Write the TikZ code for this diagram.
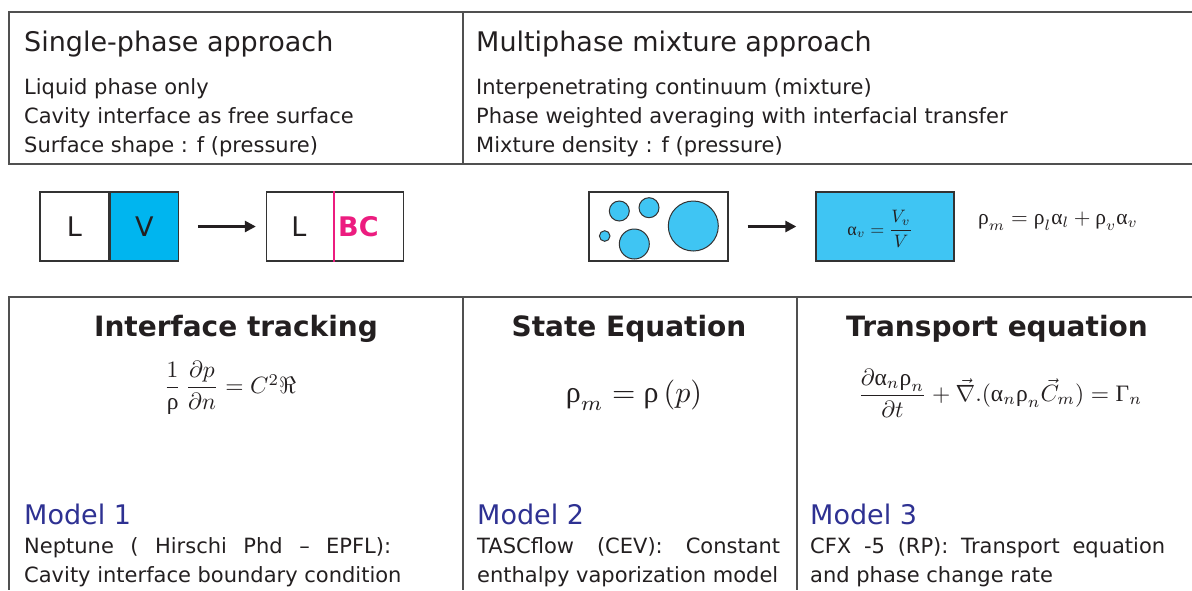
\documentclass[tikz,border=0pt]{standalone}
\usepackage{amsmath}
\usepackage[no-math]{fontspec}
\setmainfont{DejaVu Sans}
\newfontfamily\tms{Liberation Serif}
\usetikzlibrary{arrows.meta}
\definecolor{txt}{HTML}{231F20}
\definecolor{framegray}{HTML}{505050}
\definecolor{boxgray}{HTML}{333333}
\definecolor{vcyan}{HTML}{00B5EF}
\definecolor{bcyan}{HTML}{3FC5F3}
\definecolor{bcmag}{HTML}{EC1C7F}
\definecolor{modelblue}{HTML}{2E3192}
\newcommand\gr[1]{\text{\tms #1}}
\newcommand\fs[1]{\fontsize{#1}{#1}\selectfont}
\newcommand\sm[2]{\scalebox{#1}{$#2$}}
\tikzset{
  frame/.style={draw=framegray, line width=1.4pt},
  head/.style={anchor=base west, inner sep=0, text=txt, font=\fs{27}},
  body/.style={anchor=base west, inner sep=0, text=txt, font=\fs{21}},
  btitle/.style={anchor=base, inner sep=0, text=txt, font=\fs{28}\bfseries},
  model/.style={anchor=base west, inner sep=0, text=modelblue, font=\fs{27}},
  eq/.style={inner sep=0, text=txt},
  cell/.style={draw=boxgray, line width=1.3pt, minimum height=69pt, inner sep=0, text=txt, font=\fs{27}},
  arr/.style={-{Triangle[length=11pt,width=11pt]}, line width=2.6pt, draw=txt},
  bubble/.style={draw=boxgray, line width=1pt, fill=bcyan}
}
\begin{document}
\begin{tikzpicture}[x=1pt,y=-1pt]
\useasboundingbox (0,0) rectangle (1192,590);
% top frame
\draw[frame] (1192,12) -- (9,12) -- (9,164) -- (1192,164);
\draw[frame] (463,12) -- (463,164);
\node[head] (t1) at (24,51) {Single-phase approach};
\node[head] (t2) at (476,51) {Multiphase mixture approach};
\node[body] (a1) at (24,94) {Liquid phase only};
\node[body] (a2) at (24,123) {Cavity interface as free surface};
\node[body] (a3) at (24,152) {Surface shape : f (pressure)};
\node[body] (b1) at (476,94) {Interpenetrating continuum (mixture)};
\node[body] (b2) at (476,123) {Phase weighted averaging with interfacial transfer};
\node[body] (b3) at (476,152) {Mixture density : f (pressure)};
% middle left
\node[cell, minimum width=69pt] (cl) at (74.5,226.5) {L};
\node[cell, minimum width=68pt, fill=vcyan, anchor=west] (cv) at (cl.east) {V};
\node[cell, minimum width=137pt] (cbc) at (335,226.5) {};
\node[inner sep=0, text=txt, font=\fs{27}] (lbl) at (299,226.5) {L};
\node[inner sep=0, text=bcmag, font=\fs{27}\bfseries, anchor=west] (bc) at (338,226.5) {BC};
\draw[bcmag, line width=2.6pt] (cbc.north) ++(-1,0) coordinate (m1) -- (m1 |- cbc.south);
\draw[arr] ([xshift=19pt]cv.east) -- ([xshift=-10pt]cbc.west);
% middle right
\node[draw=boxgray, line width=1.3pt, minimum width=139pt, minimum height=69pt, inner sep=0] (bb) at (658.5,226.5) {};
\draw[bubble] (619.3,211) circle [radius=10];
\draw[bubble] (649,207.7) circle [radius=10];
\draw[bubble] (604.7,236) circle [radius=5.3];
\draw[bubble] (634.3,244) circle [radius=15];
\draw[bubble] (693.3,226) circle [radius=25];
\node[draw=boxgray, line width=1.3pt, fill=bcyan, minimum width=138pt, minimum height=69pt, inner sep=0, text=txt] (cb) at (885,226.5) {};
\node[eq] (alf) at (880,229) {\sm{1.8}{\gr{α}_v = \dfrac{V_v}{V}}};
\draw[arr] ([xshift=19pt]bb.east) -- ([xshift=-19pt]cb.west);
\node[eq, anchor=west] (rhom) at (978,221) {\sm{2.15}{\gr{ρ}_m = \gr{ρ}_l\gr{α}_l + \gr{ρ}_v\gr{α}_v}};
% bottom frame
\draw[frame] (1192,297) -- (9,297) -- (9,590);
\draw[frame] (463,297) -- (463,590);
\draw[frame] (797,297) -- (797,590);
\node[btitle] (h1) at (236,336) {Interface tracking};
\node[btitle] (h2) at (629,336) {State Equation};
\node[btitle] (h3) at (997,336) {Transport equation};
\node[eq] (e1) at (230,388) {\sm{2.35}{\dfrac{1}{\gr{ρ}}\,\dfrac{\partial p}{\partial n} = C^2\Re}};
\node[eq] (e2) at (634,395) {\sm{3}{\gr{ρ}_m = \gr{ρ}\,(p)}};
\node[eq] (e3) at (1000,393) {\sm{2.35}{\dfrac{\partial\gr{α}_n\gr{ρ}_n}{\partial t} + \vec{\nabla}.(\gr{α}_n\gr{ρ}_n\vec{C}_m) = \gr{Γ}_n}};
\node[model] (m1) at (24,524) {Model 1};
\node[model] (m2) at (477,524) {Model 2};
\node[model] (m3) at (810,524) {Model 3};
\node[body] (d11) at (24,553) {\makebox[367pt][s]{Neptune ( Hirschi Phd – EPFL):}};
\node[body] (d12) at (24,582) {Cavity interface boundary condition};
\node[body] (d21) at (477,553) {\makebox[303pt][s]{TASCflow (CEV): Constant}};
\node[body] (d22) at (477,582) {enthalpy vaporization model};
\node[body] (d31) at (810,553) {\makebox[355pt][s]{CFX -5 (RP): Transport equation}};
\node[body] (d32) at (810,582) {and phase change rate};
\end{tikzpicture}
\end{document}
